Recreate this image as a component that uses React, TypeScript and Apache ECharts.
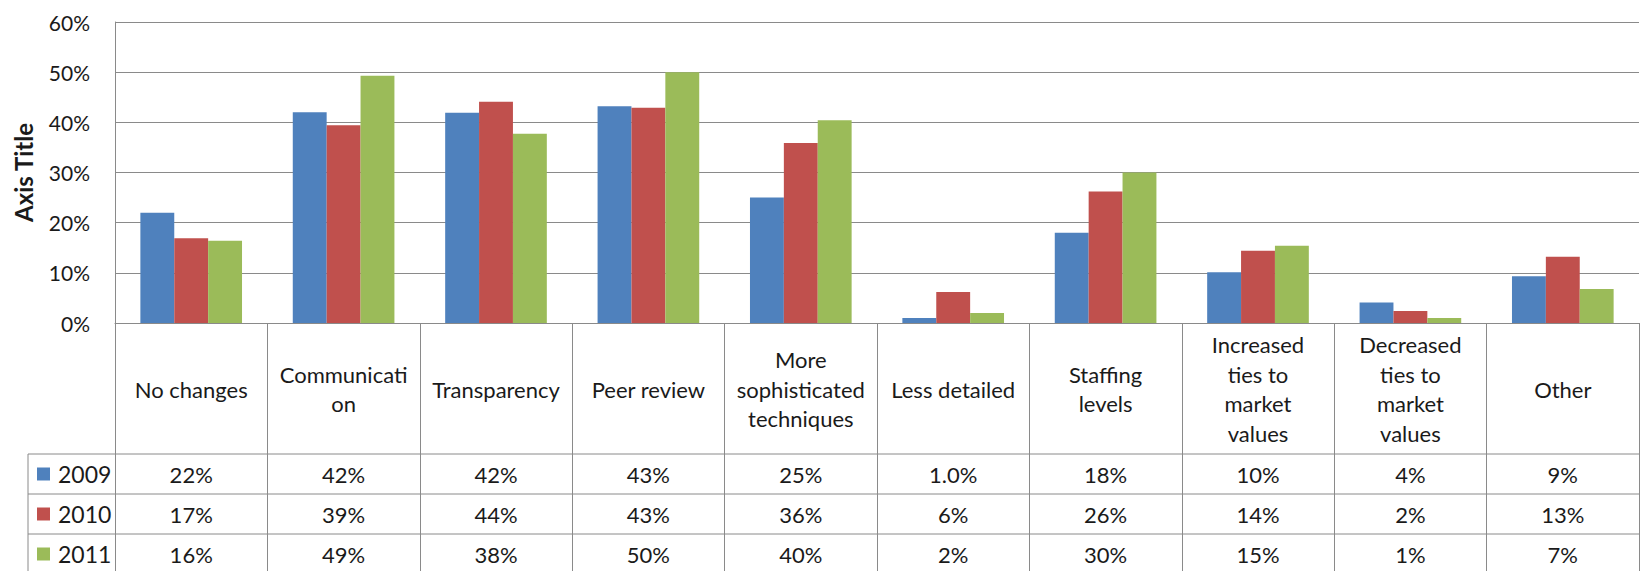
import React, { useEffect, useRef } from "react";
import * as echarts from "echarts";

const categories = [
  "No changes",
  "Communicati\non",
  "Transparency",
  "Peer review",
  "More\nsophisticated\ntechniques",
  "Less detailed",
  "Staffing\nlevels",
  "Increased\nties to\nmarket\nvalues",
  "Decreased\nties to\nmarket\nvalues",
  "Other",
];

const seriesNames = ["2009", "2010", "2011"];
const values2009 = [22.0, 42.0, 41.9, 43.2, 25.0, 1.0, 18.0, 10.1, 4.1, 9.3];
const values2010 = [16.9, 39.4, 44.1, 42.9, 35.9, 6.2, 26.2, 14.4, 2.4, 13.2];
const values2011 = [16.4, 49.3, 37.7, 50.0, 40.4, 2.0, 30.0, 15.4, 1.0, 6.8];

const labels2009 = ["22%", "42%", "42%", "43%", "25%", "1.0%", "18%", "10%", "4%", "9%"];
const labels2010 = ["17%", "39%", "44%", "43%", "36%", "6%", "26%", "14%", "2%", "13%"];
const labels2011 = ["16%", "49%", "38%", "50%", "40%", "2%", "30%", "15%", "1%", "7%"];

const yTicks = [0, 10, 20, 30, 40, 50, 60];

const colors = ["#4F81BD", "#C0504D", "#9BBB59"];
const FONT = "Lato";
const TEXT = "#1a1a1a";
const LINE = "#8a8a8a";

export default function App() {
  const ref = useRef<HTMLDivElement>(null);

  useEffect(() => {
    if (!ref.current) return;
    const chart = echarts.init(ref.current, null, { renderer: "svg" });
    const allValues = [values2009, values2010, values2011];
    const allLabels = [labels2009, labels2010, labels2011];

    const gridTop = 22;
    const gridBottom = 248;
    const gridLeft = 115;
    const gridRight = 12;

    chart.setOption({
      animation: false,
      backgroundColor: "#ffffff",
      textStyle: { fontFamily: FONT },
      grid: { left: gridLeft, right: gridRight, top: gridTop, bottom: gridBottom, containLabel: false },
      xAxis: {
        type: "category",
        data: categories,
        boundaryGap: true,
        axisLine: { show: true, lineStyle: { color: LINE, width: 1 } },
        axisTick: { show: true, length: 250, lineStyle: { color: LINE, width: 1 } },
        axisLabel: {
          interval: 0,
          margin: 66,
          verticalAlign: "middle",
          align: "center",
          fontSize: 22,
          lineHeight: 29.5,
          fontFamily: FONT,
          color: TEXT,
        },
        splitLine: { show: false },
      },
      yAxis: {
        type: "value",
        min: yTicks[0],
        max: yTicks[yTicks.length - 1],
        interval: 10,
        name: "Axis Title",
        nameLocation: "middle",
        nameGap: 80,
        nameRotate: 90,
        nameTextStyle: { fontSize: 24, fontWeight: "bold", color: TEXT, fontFamily: FONT },
        axisLine: { show: true, lineStyle: { color: LINE, width: 1 } },
        axisTick: { show: false },
        axisLabel: {
          formatter: (v: number) => `${v}%`,
          fontSize: 21,
          margin: 25,
          color: TEXT,
          fontFamily: FONT,
        },
        splitLine: { show: true, lineStyle: { color: LINE, width: 1 } },
      },
      series: seriesNames.map((name, i) => ({
        name,
        type: "bar",
        data: allValues[i],
        itemStyle: { color: colors[i] },
        barGap: "0%",
        barCategoryGap: "33.3%",
      })),
    });

    // Data table drawn under the category axis
    const rowTops = [454, 494, 534];
    const rowH = 40;
    const tableLeft = 28;
    const plotRight = 1651 - gridRight;
    const graphics: any[] = [];
    rowTops.forEach((y) => {
      graphics.push({
        type: "line",
        shape: { x1: tableLeft, y1: y, x2: plotRight, y2: y },
        style: { stroke: LINE, lineWidth: 1 },
        silent: true,
      });
    });
    graphics.push({
      type: "line",
      shape: { x1: tableLeft, y1: rowTops[0], x2: tableLeft, y2: 571 },
      style: { stroke: LINE, lineWidth: 1 },
      silent: true,
    });
    seriesNames.forEach((name, r) => {
      const cy = rowTops[r] + rowH / 2;
      graphics.push({
        type: "rect",
        shape: { x: 37, y: cy - 6.5, width: 13, height: 13 },
        style: { fill: colors[r] },
        silent: true,
      });
      graphics.push({
        type: "text",
        x: 58,
        y: cy,
        style: {
          text: name,
          fontSize: 23,
          fontFamily: FONT,
          fill: TEXT,
          textAlign: "left",
          textVerticalAlign: "middle",
        },
        silent: true,
      });
      allLabels[r].forEach((lab, c) => {
        const px = chart.convertToPixel({ xAxisIndex: 0 }, c) as number;
        graphics.push({
          type: "text",
          x: px,
          y: cy,
          style: {
            text: lab,
            fontSize: 22,
            fontFamily: FONT,
            fill: TEXT,
            textAlign: "center",
            textVerticalAlign: "middle",
          },
          silent: true,
        });
      });
    });
    chart.setOption({ graphic: graphics });

    return () => chart.dispose();
  }, []);

  return (
    <div
      ref={ref}
      style={{ position: "absolute", left: 0, top: 0, width: 1651, height: 571 }}
    />
  );
}
